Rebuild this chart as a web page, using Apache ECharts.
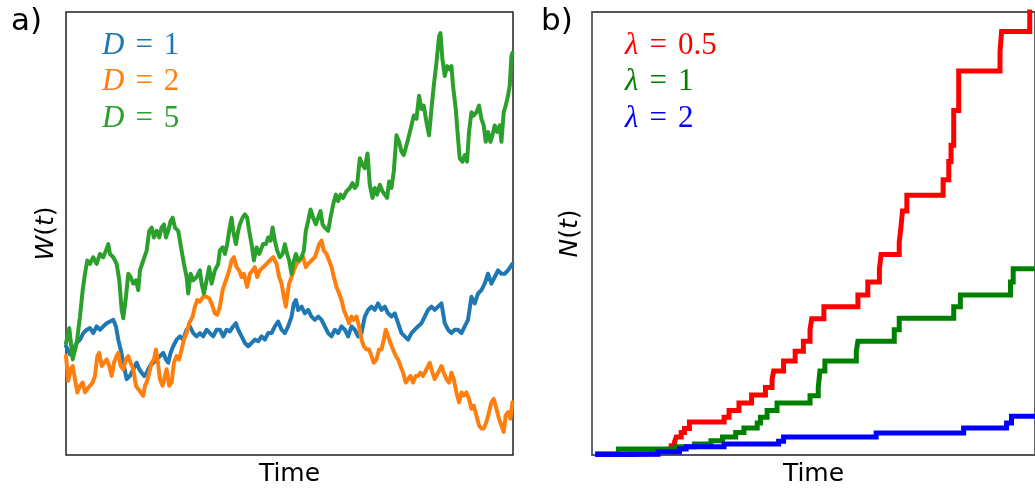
<!DOCTYPE html>
<html>
<head>
<meta charset="utf-8">
<script src="https://cdn.jsdelivr.net/npm/echarts@6/dist/echarts.min.js"></script>
<style>
  html, body { margin: 0; padding: 0; background: #fff; }
  #chart { width: 1035px; height: 492px; }
</style>
</head>
<body>
<div id="chart"></div>
<script>
// a) Wiener paths W(t) for three diffusion constants: [time step, W]
const brownD1 = [[0,1],[4,0.17],[7.3,0.67],[10.7,1.33],[14,1.67],[17.3,2.33],[20.7,2.67],[24,2.83],[27.3,2.33],[30.7,3],[34,2.67],[37.3,3],[40.7,3.33],[44,3.5],[47.3,3.67],[50,3],[52.3,1.67],[54.7,0.67],[57.3,-0.67],[60.7,-2.33],[64,-2],[67.3,-1.33],[70.7,-0.67],[73.3,-1.33],[75.7,-1.67],[78.3,-2],[80.7,-1.67],[84,-1],[87.3,-0.67],[90.7,-0.33],[94,0],[97.3,0.33],[100,-0.33],[102.3,-0.67],[104.7,0.33],[107.3,1],[110.7,1.67],[114,2],[117.3,1.67],[120.7,2.67],[124,3],[127.3,2.33],[130.7,2],[134,2.33],[137.3,2],[140.7,2.67],[144,2.33],[147.3,2],[150.7,2.67],[154,2.67],[157.3,2],[160.7,2.67],[164,2.5],[167.3,3],[170,3.33],[172.3,2.67],[175.7,2],[179,1.33],[182.3,1],[185.7,1.33],[189,1.67],[192.3,1.5],[195.7,2],[199,1.67],[202.3,2.33],[205.7,2.33],[209,3],[212.3,3.5],[215.7,2.67],[219,2.33],[222.3,3],[225.7,4],[228,5.33],[230,5.67],[232.3,4.67],[235.7,5],[239,4.33],[242.3,4.67],[245.7,4],[249,3.67],[252.3,4],[255.7,3.67],[259,3],[262.3,2.33],[265.7,2],[269,2.67],[272.3,2.33],[275.7,3],[279,2.67],[282.3,2],[285.7,3],[289,2.67],[292.3,2],[295.7,2.33],[299,4],[302.3,4.67],[305.7,5],[309,4.67],[312.3,5.33],[315.7,4.67],[319,5],[322.3,4.33],[325.7,4],[329,4.33],[332.3,3.33],[335.7,2.33],[339,2],[342.3,1.67],[345.7,2.33],[349,2.67],[352.3,3],[355.7,3.33],[359,4],[362.3,4.67],[365.7,5],[369,4.67],[372.3,5],[375.7,5.33],[379,3.33],[382.3,2.67],[385.7,2.33],[389,2.67],[392.3,2.67],[395.7,2.33],[399,3],[402.3,3.67],[405.7,6],[409,5.33],[412.3,6.33],[415.7,6.67],[419,7.33],[422.3,8.33],[425.7,7.33],[429,8],[432.3,8.67],[435.7,8.33],[439,8.33],[442.3,8.67],[446.7,9.33]];

const brownD2 = [[0,0],[2.3,-2.5],[4.7,-1.33],[6.7,-1],[9,-2.33],[11.3,-3.67],[14,-3],[16.7,-2.67],[19,-3.67],[21.3,-3.33],[24,-3],[26.7,-2.67],[29,-2],[31.3,0],[33.3,0.33],[35.7,-1],[38,-0.67],[40.7,-0.33],[43.3,-1],[45.7,-2],[48,-0.67],[50.7,0],[52.3,0.33],[54.7,-1],[57.3,-1.33],[60,-0.33],[62.3,0],[64.7,-0.67],[67.3,-1.33],[70,-3],[72.3,-3.33],[74.7,-3.67],[77.3,-4],[79,-3],[80.7,-2.67],[83.3,-1.67],[85.7,-0.67],[88,-0.33],[90,0.67],[92,-0.67],[94,-2.33],[96.7,-3],[99,-2],[100.7,-1.33],[103.3,-3],[105.7,-2.67],[108,-0.67],[110.7,0],[113.3,-0.33],[115.7,0.67],[118,1.67],[120.7,2.33],[123.3,3.33],[126.7,4],[129,5],[131.3,5.67],[134,5.5],[137.3,6],[140.7,6],[143.3,5.83],[145.7,5.33],[149,4.33],[151.3,4.17],[154,5],[156.7,6.67],[160,7.67],[163.3,8.67],[165.7,9.67],[168,10],[170.7,9],[173.3,8.67],[175.7,8],[178,8.33],[181.3,7],[184,8.33],[186.7,8.67],[189,9],[191.3,8],[194,8.67],[197.3,9],[200.7,9.33],[204,9.67],[207.3,10],[210.7,9.33],[213.3,8],[215.7,7.33],[218,6],[220,5],[221.3,6],[223.3,7.33],[225.7,8],[228,8.67],[230.7,9.33],[234,9.67],[237.3,10],[240,9],[242.3,9.33],[245.7,9.67],[249,10],[251.3,10.67],[253.3,11.33],[255.7,11.67],[258,10.67],[260.7,10.33],[263.3,9.67],[265.7,9],[268,8],[270.7,7],[273.3,6.33],[275.7,5.67],[278,4.67],[280.7,4],[283.3,3.33],[285.7,4],[288,3.67],[290.7,4],[293.3,3],[295.7,1.67],[298,1],[300.7,0.67],[303.3,0.67],[305.7,0],[308,-0.67],[310.7,-0.33],[313.3,0.67],[315.7,0.67],[318,1.67],[320,2.67],[322.3,2],[324.7,1.33],[327.3,0.67],[330,0],[332.3,-0.33],[334.7,-1],[337.3,-1.67],[340,-2.67],[342.3,-2.33],[344.7,-2],[347.3,-2.67],[350,-2],[352.3,-2],[354.7,-1.67],[357.3,-2],[360.7,-1.33],[364,-0.67],[366.7,-1.67],[369,-2.33],[372.3,-1.67],[375.7,-1],[378,-1.67],[380.7,-2.33],[383.3,-2.67],[385.7,-1.67],[388,-2.33],[390.7,-3.67],[393.3,-4.67],[395.7,-3.67],[398,-4],[400.7,-3.67],[403.3,-4.33],[405.7,-5.33],[408,-5],[410.7,-6],[413.3,-7],[415.7,-7.33],[418,-7.33],[420.7,-6.67],[423.3,-5.67],[425.7,-4.67],[428,-4.33],[430.7,-5.33],[433.3,-6.33],[435.7,-7],[438,-7.67],[440,-6],[442.3,-5.67],[444.7,-6.33],[446.7,-4.67]];

const brownD5 = [[0,1.3],[3.3,2.83],[6.7,-0.33],[10.7,1.33],[14,4],[16.7,6.67],[19,8.33],[21.3,9.67],[24,9.33],[27.3,10],[30.7,9.33],[34,10.33],[37.3,10],[40,10.67],[42.3,11.33],[44,10.33],[47.3,10],[50.7,9.33],[53.3,7.67],[55.7,4.67],[57.3,3.83],[60,6],[62.3,8.33],[64.7,8],[67.3,7.33],[70,7.67],[72.3,6.67],[74,8.67],[77.3,9.67],[80.7,10.67],[83.3,12.67],[85.7,13],[88,12],[90.7,12.67],[93.3,12],[95.7,13],[98,13.33],[100,12],[102.3,12.67],[104.7,13.67],[106.7,14],[109,13],[112.3,12.67],[115.7,10.67],[118,9.33],[120.7,8],[122.3,6.33],[124.7,8.33],[127.3,7.67],[130.7,8],[134,8.67],[135.7,7.33],[138,6.33],[140.7,7.67],[143.3,9],[145.7,7.33],[149,8.67],[152.3,9.33],[154,10.67],[156.7,11],[159,10.33],[161.3,11.33],[163.3,12.67],[165.7,14],[167.3,12.67],[170,11.33],[172.3,12.67],[174,13.33],[176.7,14],[179,14.33],[181.3,14],[183.3,12.67],[185.7,11.33],[188,9.67],[190.7,11],[193.3,10.33],[197.3,11.33],[200,11.33],[202.3,12],[204.7,11.67],[206.7,13],[209,11.67],[211.3,10.67],[214,10],[216.7,10.33],[219,11.33],[221.3,10.33],[223.3,9.67],[225.7,8.33],[227.3,9.33],[230,10.33],[232.3,9.67],[235.7,10],[238,10.67],[240,12.67],[242.3,13.67],[244.7,14.83],[247.3,14],[250,13.33],[252.3,14],[254.7,14.67],[256.7,13.33],[259,13],[262.3,12.67],[264.7,14],[267.3,15.33],[270,16.33],[272.3,15.67],[274.7,16.33],[277.3,16],[280.7,16.67],[284,17],[286.7,17.5],[289,17],[291.3,17.33],[294,20],[296.7,19.33],[299,19],[301.7,20.5],[304,17.33],[306.7,16],[309,17],[311.3,16.33],[314,17.33],[316.7,16.67],[319,16.33],[321.3,16],[323.3,17.67],[325.7,17],[328,18.67],[330.7,22.33],[333.3,21.67],[335.7,20.67],[338,20.33],[340.7,21.33],[343.3,22.33],[345.7,23.33],[348,24.33],[350.7,24],[353.3,26.33],[355.7,25],[358,25.33],[360.7,23.67],[363.3,22.33],[365.7,25],[368,27.33],[370.7,29.67],[373.3,32.33],[374.7,32.67],[376.7,30],[379,28.33],[381.3,29.33],[384,29],[385.7,29.33],[387.3,27.33],[390,25],[392.3,22],[394,20],[396.7,19.67],[399,20.33],[401.3,19.67],[403.3,22.67],[405.7,24.67],[408,24.33],[410.7,24.67],[413.3,25.33],[415.7,24],[418,23.33],[420,21.67],[422.3,22.67],[424.7,21.67],[426.7,22.33],[429,23.33],[431.3,22.67],[434,23.33],[435.7,21.67],[438,24.67],[440,25.33],[442.3,26.33],[444,27.33],[445.7,30.33],[446.7,30.67]];

// b) counting processes N(t): [event time, count after the jump]
const countL05 = [[3.3,0.1],[28.3,0.27],[65,0.47],[73.3,0.67],[80,0.93],[83.3,1.33],[85,1.83],[90,2.27],[93.3,2.67],[98.3,3.33],[133.3,3.83],[138.3,4.5],[148.3,5.27],[161,6.07],[175,6.83],[181.7,7.67],[183.3,8.5],[193.3,9.5],[205,10.5],[213.3,11.5],[220,12.67],[221.7,13.77],[234,15],[268.3,16.17],[278.3,17.5],[290,18.83],[291.7,20.27],[310,21.5],[311.7,23],[313.3,24.67],[317.7,26.27],[354.3,27.83],[360,29.67],[362.3,31.33],[365,34.83],[370,38.83],[411.7,40.83],[413.3,42.83],[441.7,45.5],[447,45.5]];
const countL1 = [[3.3,0.1],[26.7,0.6],[85,0.83],[103.3,1.1],[120,1.43],[131.7,1.83],[145,2.27],[153.3,2.73],[166.7,3.23],[170,3.83],[176.7,4.5],[186.7,5.27],[220,6],[228.3,6.83],[230,8.5],[235,9.5],[266.7,10.5],[268.3,11.5],[305,12.67],[310,13.83],[365,15],[371.7,16.17],[422.3,17.5],[425,18.83],[447,18.83]];
const countL2 = [[3.3,0.05],[36.7,0.07],[66.7,0.33],[88.3,0.6],[95,0.83],[133.3,1.1],[188.3,1.4],[193.3,1.83],[286.7,2.23],[375,2.73],[418.3,3.23],[423.3,3.93],[447,3.93]];

const brownNames = ['D = 1', 'D = 2', 'D = 5'];
const countNames = ['λ = 0.5', 'λ = 1', 'λ = 2'];
const brownColors = ['#1f77b4', '#ff7f0e', '#2ca02c'];
const countColors = ['#ff0000', '#008000', '#0000ff'];

const chart = echarts.init(document.getElementById('chart'), null, { renderer: 'canvas' });

const sans = 'DejaVu Sans';
const serif = 'Liberation Serif';

// legend entries typeset like math: italic symbol, spaced "=", upright value
const mathRich = {
  v: { fontFamily: serif, fontStyle: 'italic', fontSize: 31 },
  o: { fontFamily: serif, fontSize: 31, padding: [0, 11, 0, 11] },
  n: { fontFamily: serif, fontSize: 31 }
};
function mathLabel(name) {
  const parts = name.split(' = ');
  return '{v|' + parts[0] + '}{o|=}{n|' + parts[1] + '}';
}

const axisNameRich = {
  i: { fontFamily: sans, fontStyle: 'italic', fontSize: 25, color: '#000' },
  r: { fontFamily: sans, fontSize: 25, color: '#000' }
};

function hiddenAxis(extra) {
  return Object.assign({
    type: 'value',
    axisLine: { show: false },
    axisTick: { show: false },
    axisLabel: { show: false },
    splitLine: { show: false }
  }, extra);
}

const option = {
  backgroundColor: '#ffffff',
  animation: false,
  grid: [
    { left: 66, top: 12, width: 447, height: 448, show: true, borderColor: '#222', borderWidth: 1.5, backgroundColor: 'transparent' },
    { left: 592, top: 12, width: 447, height: 448, show: true, borderColor: '#555', borderWidth: 1.8, backgroundColor: 'transparent' }
  ],
  xAxis: [
    hiddenAxis({ gridIndex: 0, min: 0, max: 447.3, name: 'Time', nameLocation: 'middle', nameGap: 7,
      nameTextStyle: { fontFamily: sans, fontSize: 25, color: '#000', verticalAlign: 'top' } }),
    hiddenAxis({ gridIndex: 1, min: 0, max: 447, name: 'Time', nameLocation: 'middle', nameGap: 7,
      nameTextStyle: { fontFamily: sans, fontSize: 25, color: '#000', verticalAlign: 'top' } })
  ],
  yAxis: [
    hiddenAxis({ gridIndex: 0, min: -10, max: 34.8, name: '{i|W}{r|(}{i|t}{r|)}', nameLocation: 'middle', nameGap: 7,
      nameTextStyle: { fontFamily: sans, fontSize: 25, color: '#000', rich: axisNameRich } }),
    hiddenAxis({ gridIndex: 1, min: 0, max: 44.8, name: '{i|N}{r|(}{i|t}{r|)}', nameLocation: 'middle', nameGap: 9,
      nameTextStyle: { fontFamily: sans, fontSize: 25, color: '#000', rich: axisNameRich } })
  ],
  legend: [
    {
      left: 92, top: 25, orient: 'vertical', icon: 'none', itemWidth: 0, itemHeight: 14, itemGap: 5.5,
      selectedMode: false,
      formatter: mathLabel,
      textStyle: { fontSize: 31, lineHeight: 31, rich: mathRich },
      data: brownNames.map((n, i) => ({ name: n, textStyle: { color: brownColors[i] } }))
    },
    {
      left: 615, top: 25, orient: 'vertical', icon: 'none', itemWidth: 0, itemHeight: 14, itemGap: 5.5,
      selectedMode: false,
      formatter: mathLabel,
      textStyle: { fontSize: 31, lineHeight: 31, rich: mathRich },
      data: countNames.map((n, i) => ({ name: n, textStyle: { color: countColors[i] } }))
    }
  ],
  graphic: [
    { type: 'text', left: 11, top: 6, style: { text: 'a)', fontFamily: sans, fontSize: 31, fill: '#000' } },
    { type: 'text', left: 541, top: 6, style: { text: 'b)', fontFamily: sans, fontSize: 31, fill: '#000' } }
  ],
  series: [
    ...[brownD1, brownD2, brownD5].map((d, i) => ({
      name: brownNames[i], type: 'line', xAxisIndex: 0, yAxisIndex: 0,
      data: d, showSymbol: false, symbol: 'none', color: brownColors[i],
      lineStyle: { width: 4, color: brownColors[i], join: 'round', cap: 'round' }
    })),
    ...[countL05, countL1, countL2].map((d, i) => ({
      name: countNames[i], type: 'line', xAxisIndex: 1, yAxisIndex: 1, step: 'end',
      data: d, showSymbol: false, symbol: 'none', color: countColors[i],
      lineStyle: { width: 5, color: countColors[i], join: 'miter' }
    }))
  ]
};

chart.setOption(option);
</script>
</body>
</html>
